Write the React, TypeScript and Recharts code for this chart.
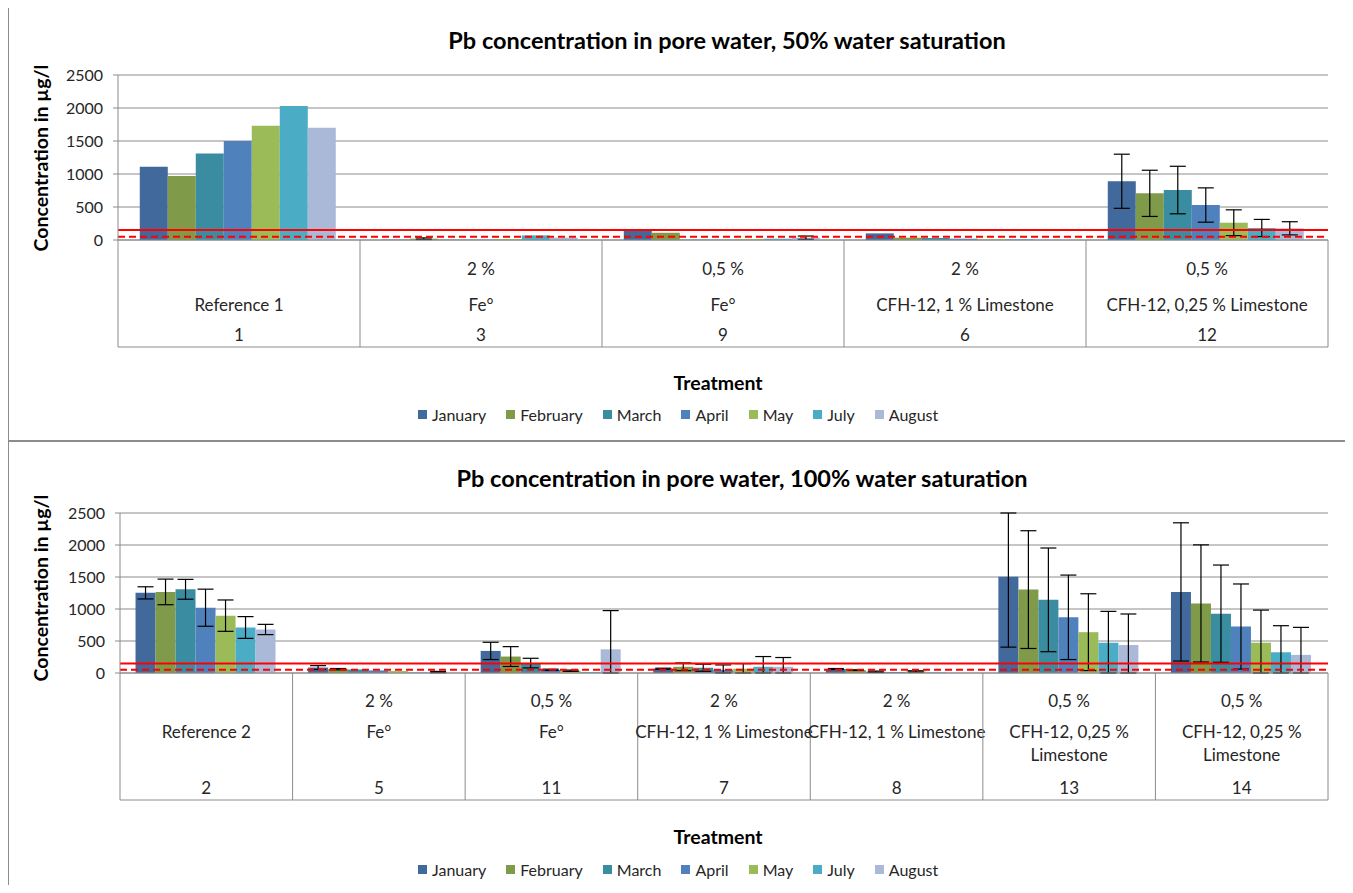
import React from "react";
import { BarChart, Bar, XAxis, YAxis, CartesianGrid, ReferenceLine, ErrorBar, Legend } from "recharts";

const FONT = "Lato, 'Open Sans', sans-serif";
const GRID = "#8c8c8c";
const TEXT = "#262626";
const RED = "#ff0000";
const YW = 60;

const MONTHS = ["January", "February", "March", "April", "May", "July", "August"];
const MONTH_KEYS = ["jan", "feb", "mar", "apr", "may", "jul", "aug"];
const MONTH_COLORS = ["#41699b", "#7f9a48", "#3a8ca1", "#4f81bd", "#9bbb59", "#4bacc6", "#aab9d8"];

const Y_MAX = 2500;
const Y_TICKS = [0, 500, 1000, 1500, 2000, 2500];
const LIMIT_SOLID = 150;
const LIMIT_DASHED = 50;

// 50% water saturation
const TOP_IDS = ["1", "3", "9", "6", "12"];
const TOP_DOSE = ["", "2 %", "0,5 %", "2 %", "0,5 %"];
const TOP_AMEND = [["Reference 1"], ["Fe°"], ["Fe°"], ["CFH-12, 1 % Limestone"], ["CFH-12, 0,25 % Limestone"]];
const TOP_JAN = [1110, 5, 165, 100, 890];
const TOP_FEB = [970, 20, 110, 35, 707];
const TOP_MAR = [1310, 5, 5, 30, 757];
const TOP_APR = [1500, 5, 5, 20, 530];
const TOP_MAY = [1730, 15, 15, 12, 262];
const TOP_JUL = [2030, 70, 20, 12, 182];
const TOP_AUG = [1700, 35, 35, 10, 177];
const TOP_JAN_ERR = [null, null, null, null, 410];
const TOP_FEB_ERR = [null, 12, null, null, 350];
const TOP_MAR_ERR = [null, null, null, null, 360];
const TOP_APR_ERR = [null, null, null, null, 260];
const TOP_MAY_ERR = [null, null, null, null, 195];
const TOP_JUL_ERR = [null, null, null, null, 130];
const TOP_AUG_ERR = [null, null, 25, null, 100];

// 100% water saturation
const BOT_IDS = ["2", "5", "11", "7", "8", "13", "14"];
const BOT_DOSE = ["", "2 %", "0,5 %", "2 %", "2 %", "0,5 %", "0,5 %"];
const BOT_AMEND = [
  ["Reference 2"], ["Fe°"], ["Fe°"], ["CFH-12, 1 % Limestone"], ["CFH-12, 1 % Limestone"],
  ["CFH-12, 0,25 %", "Limestone"], ["CFH-12, 0,25 %", "Limestone"],
];
const BOT_JAN = [1252, 85, 345, 67, 62, 1504, 1267];
const BOT_FEB = [1267, 60, 257, 97, 45, 1303, 1087];
const BOT_MAR = [1308, 55, 155, 82, 20, 1143, 927];
const BOT_APR = [1020, 40, 50, 51, 15, 870, 726];
const BOT_MAY = [896, 30, 35, 67, 25, 638, 473];
const BOT_JUL = [711, 10, 15, 97, 10, 473, 324];
const BOT_AUG = [680, 15, 370, 97, 10, 437, 283];
const BOT_JAN_ERR = [95, 30, 135, 8, 8, 1100, 1080];
const BOT_FEB_ERR = [200, 10, 155, 60, 5, 920, 915];
const BOT_MAR_ERR = [155, null, 75, 55, 10, 810, 760];
const BOT_APR_ERR = [290, null, 10, 75, null, 660, 665];
const BOT_MAY_ERR = [245, null, 10, 80, 10, 600, 510];
const BOT_JUL_ERR = [170, null, null, 160, null, 490, 415];
const BOT_AUG_ERR = [80, 10, 605, 145, null, 485, 430];

const TOP = {
  title: "Pb concentration in pore water, 50% water saturation",
  ids: TOP_IDS, dose: TOP_DOSE, amend: TOP_AMEND,
  values: [TOP_JAN, TOP_FEB, TOP_MAR, TOP_APR, TOP_MAY, TOP_JUL, TOP_AUG],
  errors: [TOP_JAN_ERR, TOP_FEB_ERR, TOP_MAR_ERR, TOP_APR_ERR, TOP_MAY_ERR, TOP_JUL_ERR, TOP_AUG_ERR],
  width: 1335, height: 432,
  margin: { top: 67, right: 16, left: 49, bottom: 93 },
  tableH: 107, doseDy: 28, amendDy: [64], idDy: 94,
  titleX: 718, titleY: 32, labelY: 150, treatY: 374, legendY: 407,
};

const BOTTOM = {
  title: "Pb concentration in pore water, 100% water saturation",
  ids: BOT_IDS, dose: BOT_DOSE, amend: BOT_AMEND,
  values: [BOT_JAN, BOT_FEB, BOT_MAR, BOT_APR, BOT_MAY, BOT_JUL, BOT_AUG],
  errors: [BOT_JAN_ERR, BOT_FEB_ERR, BOT_MAR_ERR, BOT_APR_ERR, BOT_MAY_ERR, BOT_JUL_ERR, BOT_AUG_ERR],
  width: 1335, height: 450,
  margin: { top: 70, right: 16, left: 51, bottom: 93 },
  tableH: 127, doseDy: 27, amendDy: [58, 81], idDy: 114,
  titleX: 733, titleY: 35, labelY: 145, treatY: 393, legendY: 427,
};

function MonthLegend() {
  return (
    <div style={{ display: "flex", alignItems: "center", fontFamily: FONT, fontSize: 16, color: TEXT, whiteSpace: "nowrap" }}>
      {MONTHS.map((m, i) => (
        <span key={m} style={{ display: "flex", alignItems: "center", marginRight: 20 }}>
          <span style={{ display: "inline-block", width: 9, height: 9, background: MONTH_COLORS[i], marginRight: 5 }} />
          {m}
        </span>
      ))}
    </div>
  );
}

function Panel({ cfg }: { cfg: typeof TOP }) {
  const { width, height, margin, tableH } = cfg;
  const n = cfg.ids.length;
  const band = (width - margin.left - margin.right - YW) / n;

  // error bars are cut at the plot edges, like the original chart
  const data = cfg.ids.map((id, i) => {
    const row: Record<string, unknown> = { id };
    MONTH_KEYS.forEach((k, m) => {
      const v = cfg.values[m][i];
      const e = cfg.errors[m][i];
      row[k] = v;
      row[k + "Err"] = e == null ? null : [Math.min(e, v), Math.min(e, Y_MAX - v)];
    });
    return row;
  });

  const tick = (p: any) => {
    const i = p.index;
    const x0 = p.x - band / 2;
    const x1 = p.x + band / 2;
    const y = p.y;
    const txt = { textAnchor: "middle" as const, dominantBaseline: "central" as const, fontSize: 17, fill: TEXT, fontFamily: FONT };
    return (
      <g>
        <line x1={x0} y1={y} x2={x0} y2={y + tableH} stroke={GRID} />
        {i === n - 1 && <line x1={x1} y1={y} x2={x1} y2={y + tableH} stroke={GRID} />}
        <line x1={x0} y1={y + tableH} x2={x1} y2={y + tableH} stroke={GRID} />
        {cfg.dose[i] && <text x={p.x} y={y + cfg.doseDy} {...txt}>{cfg.dose[i]}</text>}
        {cfg.amend[i].map((s, j) => (
          <text key={j} x={p.x} y={y + cfg.amendDy[j]} {...txt}>{s}</text>
        ))}
        <text x={p.x} y={y + cfg.idDy} {...txt}>{cfg.ids[i]}</text>
      </g>
    );
  };

  return (
    <div style={{ position: "relative", width, height, fontFamily: FONT }}>
      <div style={{ position: "absolute", left: cfg.titleX, top: cfg.titleY, transform: "translate(-50%,-50%)", fontSize: 23.5, fontWeight: 700, whiteSpace: "nowrap", color: "#000" }}>
        {cfg.title}
      </div>
      <div style={{ position: "absolute", left: 31, top: cfg.labelY, transform: "translate(-50%,-50%) rotate(-90deg)", fontSize: 19.5, fontWeight: 700, whiteSpace: "nowrap", color: "#000" }}>
        Concentration in µg/l
      </div>
      <div style={{ position: "absolute", left: 709, top: cfg.treatY, transform: "translate(-50%,-50%)", fontSize: 19.5, fontWeight: 700, whiteSpace: "nowrap", color: "#000" }}>
        Treatment
      </div>
      <BarChart width={width} height={height} data={data} margin={margin} barCategoryGap="9%" barGap={0}>
        <CartesianGrid horizontal vertical={false} stroke={GRID} />
        <XAxis dataKey="id" interval={0} tickSize={0} tickMargin={0} tickLine={false} height={tableH} axisLine={{ stroke: GRID }} tick={tick} />
        <YAxis
          type="number"
          domain={[0, Y_MAX]}
          ticks={Y_TICKS}
          allowDataOverflow
          width={YW}
          tickSize={5}
          tickMargin={10}
          tickLine={{ stroke: GRID }}
          axisLine={{ stroke: GRID }}
          tick={{ fontSize: 16, fill: TEXT, fontFamily: FONT }}
        />
        {MONTH_KEYS.map((k, m) => (
          <Bar key={k} dataKey={k} name={MONTHS[m]} fill={MONTH_COLORS[m]} isAnimationActive={false}>
            <ErrorBar dataKey={k + "Err"} width={8} stroke="#000" strokeWidth={1.2} />
          </Bar>
        ))}
        <ReferenceLine y={LIMIT_SOLID} stroke={RED} strokeWidth={2} />
        <ReferenceLine y={LIMIT_DASHED} stroke={RED} strokeWidth={2} strokeDasharray="7 4" />
        <Legend
          verticalAlign="middle"
          align="center"
          content={() => <MonthLegend />}
          wrapperStyle={{ left: 409, top: cfg.legendY - 10, width: "auto", height: 20 }}
        />
      </BarChart>
    </div>
  );
}

export default function App() {
  const frame = { position: "absolute" as const, left: 0, width: 1339, border: "1px solid #8c8c8c", boxSizing: "border-box" as const };
  return (
    <div style={{ position: "relative", width: 1339, height: 877 }}>
      <style>{"body{overflow:hidden}"}</style>
      <div style={{ ...frame, top: -1, height: 434 }} />
      <div style={{ ...frame, top: 433, height: 470 }} />
      <div style={{ position: "absolute", left: 1, top: 0 }}>
        <Panel cfg={TOP} />
      </div>
      <div style={{ position: "absolute", left: 1, top: 435 }}>
        <Panel cfg={BOTTOM} />
      </div>
    </div>
  );
}
